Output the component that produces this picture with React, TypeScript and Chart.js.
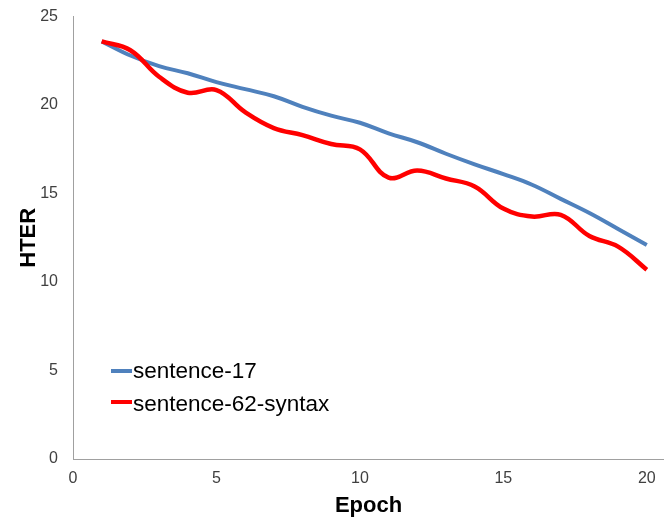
import React, { useEffect, useRef } from "react";
import { Chart, registerables } from "chart.js";

Chart.register(...registerables);

// Training epochs and HTER per epoch for the two systems
const epochs = [1, 2, 3, 4, 5, 6, 7, 8, 9, 10, 11, 12, 13, 14, 15, 16, 17, 18, 19, 20];
const sentence17 = [23.6, 22.8, 22.2, 21.8, 21.3, 20.9, 20.5, 19.9, 19.4, 19.0, 18.4, 17.9, 17.25, 16.65, 16.1, 15.5, 14.7, 13.9, 13.0, 12.1];
const sentence62Syntax = [23.6, 23.1, 21.6, 20.7, 20.85, 19.6, 18.7, 18.3, 17.8, 17.5, 15.9, 16.3, 15.85, 15.4, 14.15, 13.7, 13.8, 12.6, 12.0, 10.7];

const seriesNames = ["sentence-17", "sentence-62-syntax"];
const seriesColors = ["#4F81BD", "#FF0000"];
const xTicks = [0, 5, 10, 15, 20];

const FONT = "'Liberation Sans', Arial, sans-serif";

// Legend drawn inside the plot, lower-left
const insideLegend = {
  id: "insideLegend",
  afterDraw(chart: any) {
    const ctx = chart.ctx;
    const { left } = chart.chartArea;
    const rows = [
      { y: 371, base: 378 },
      { y: 402, base: 411 },
    ];
    ctx.save();
    chart.data.datasets.forEach((ds: any, i: number) => {
      const r = rows[i];
      ctx.strokeStyle = ds.borderColor;
      ctx.lineWidth = 4;
      ctx.lineCap = "butt";
      ctx.beginPath();
      ctx.moveTo(left + 38, r.y);
      ctx.lineTo(left + 59, r.y);
      ctx.stroke();
      ctx.fillStyle = "#000000";
      ctx.font = `22.5px ${FONT}`;
      ctx.textAlign = "left";
      ctx.textBaseline = "alphabetic";
      ctx.fillText(ds.label, left + 60, r.base);
    });
    ctx.restore();
  },
};

export default function App() {
  const ref = useRef<HTMLCanvasElement | null>(null);

  useEffect(() => {
    if (!ref.current) return;
    const chart = new Chart(ref.current, {
      type: "line",
      data: {
        datasets: [
          {
            label: seriesNames[0],
            data: epochs.map((e, i) => ({ x: e, y: sentence17[i] })),
            borderColor: seriesColors[0],
            backgroundColor: seriesColors[0],
            borderWidth: 4,
            pointRadius: 0,
            tension: 0.4,
            order: 1,
          },
          {
            label: seriesNames[1],
            data: epochs.map((e, i) => ({ x: e, y: sentence62Syntax[i] })),
            borderColor: seriesColors[1],
            backgroundColor: seriesColors[1],
            borderWidth: 4.5,
            pointRadius: 0,
            tension: 0.4,
            order: 0,
          },
        ],
      },
      options: {
        responsive: false,
        animation: false,
        layout: { padding: { top: 8, left: 0, right: 0, bottom: 0 } },
        plugins: {
          legend: { display: false },
          tooltip: { enabled: false },
        },
        scales: {
          x: {
            type: "linear",
            min: 0,
            max: 20.6,
            grid: { display: false },
            border: { display: true, color: "#A0A0A0", width: 1 },
            afterBuildTicks: (scale: any) => {
              scale.ticks = xTicks.map((v) => ({ value: v }));
            },
            afterFit: (scale: any) => {
              scale.height = 64;
            },
            ticks: {
              padding: 2,
              color: "#404040",
              font: { family: FONT, size: 16 },
              maxRotation: 0,
            },
            title: {
              display: true,
              text: "Epoch",
              color: "#000000",
              font: { family: FONT, size: 22, weight: "bold" },
              padding: { top: 0, bottom: 4 },
            },
          },
          y: {
            min: 0,
            max: 25,
            grid: { display: false },
            border: { display: true, color: "#A0A0A0", width: 1 },
            afterFit: (scale: any) => {
              scale.width = 73;
            },
            ticks: {
              stepSize: 5,
              padding: 7,
              color: "#404040",
              font: { family: FONT, size: 16 },
            },
            title: {
              display: true,
              text: "HTER",
              color: "#000000",
              font: { family: FONT, size: 22, weight: "bold" },
              padding: { top: 16, bottom: 0 },
            },
          },
        },
      },
      plugins: [insideLegend],
    });
    return () => chart.destroy();
  }, []);

  return (
    <div style={{ position: "absolute", left: 0, top: 0, width: 664, height: 523, background: "#ffffff" }}>
      <canvas ref={ref} width={664} height={523} style={{ display: "block" }} />
    </div>
  );
}
